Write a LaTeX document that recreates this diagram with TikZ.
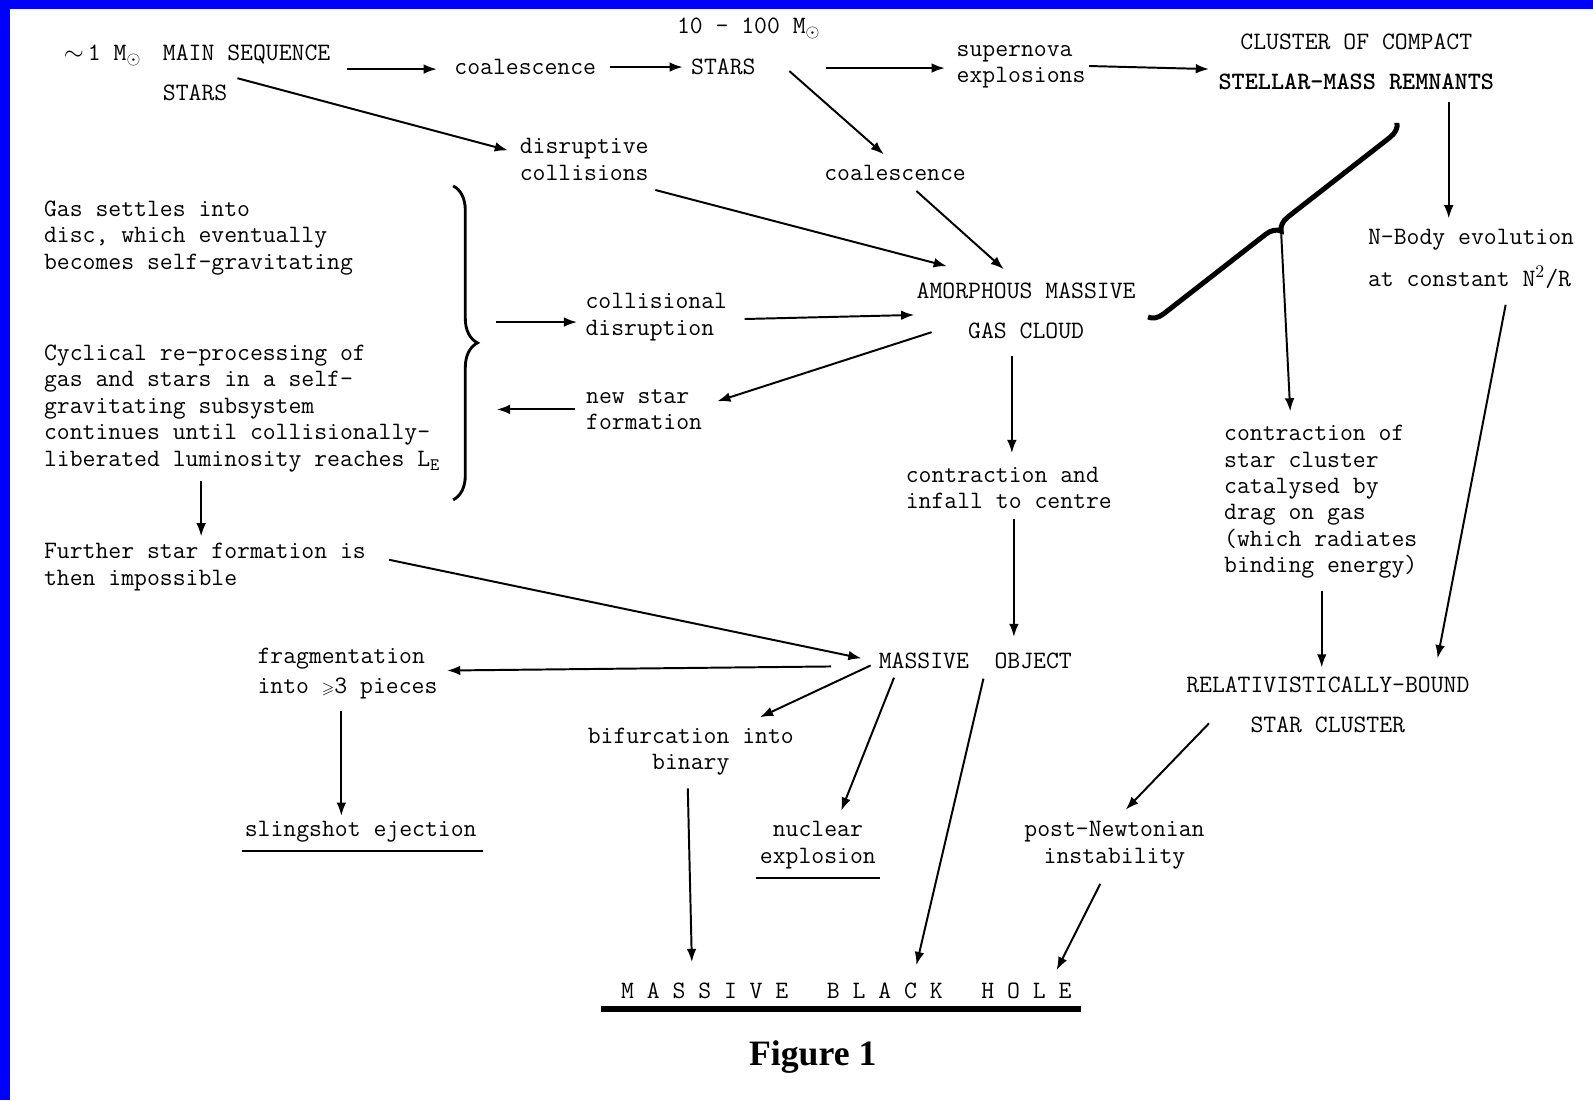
\documentclass[tikz,border=0pt]{standalone}
\usepackage{amssymb}
\usepackage{fontspec}
\newfontfamily\figfont{Liberation Serif}
\usetikzlibrary{arrows.meta,decorations.pathreplacing}
\newcommand{\tw}{\fontsize{14}{14.8}\selectfont\ttfamily}
\tikzset{
  stage/.style={font=\tw,inner sep=0pt,align=left},
  stagec/.style={font=\tw,inner sep=0pt,align=center},
  flow/.style={-{Latex[length=2.6mm,width=1.9mm]},line width=1.1pt},
  bracebig/.style={decorate,decoration={brace,amplitude=#1},line width=1.6pt}
}
\begin{document}
\begin{tikzpicture}[x=0.2mm,y=-0.2mm]
\useasboundingbox (0,0) rectangle (1568,1083);
\fill[white] (0,0) rectangle (1568,1083);
\fill[blue] (0,0) rectangle (1568,9);
\fill[blue] (0,0) rectangle (10,1083);

% top row
\node[stage] (msun) at (101,55) {$\sim$\,1 M$_{\odot}$};
\node[stage,anchor=west] (ms) at (160,72) {MAIN SEQUENCE\\[2.6mm]STARS};
\node[stage] (coal1) at (517,66) {coalescence};
\node[stage] (bigm) at (737,28) {10 - 100 M$_{\odot}$};
\node[stage] (bigst) at (712,66) {STARS};
\node[stage] (sn) at (1005,66) {supernova\\explosions};
\node[stagec] (ccsr) at (1335,61) {CLUSTER OF COMPACT\\[2.8mm]{\bfseries STELLAR-MASS REMNANTS}};
\node[stage] (dc) at (575,157) {disruptive\\collisions};
\node[stage] (coal2) at (881,170) {coalescence};

% left column
\node[stage,anchor=west] (gas) at (43,234) {Gas settles into\\disc, which eventually\\becomes self-gravitating};
\node[stage,anchor=west] (cyc) at (43,402) {Cyclical re-processing of\\gas and stars in a self-\\gravitating subsystem\\continues until collisionally-\\liberated luminosity reaches L$_{\mathtt{E}}$};
\node[stage,anchor=west] (fsf) at (43,558) {Further star formation is\\then impossible};
\coordinate (lbtop) at (446,183);
\coordinate (lbbot) at (446,492);
\draw[bracebig=4.8mm] (lbtop) -- (lbbot);
\coordinate (lbout) at (488,317);
\coordinate (lbin) at (489,403);

% middle
\node[stage] (coldis) at (646,312) {collisional\\disruption};
\node[stage] (nsf) at (634,403) {new star\\formation};
\node[stagec] (amg) at (1010,306) {AMORPHOUS MASSIVE\\[2.6mm]GAS CLOUD};
\node[stage] (cic) at (993,480) {contraction and\\infall to centre};
\node[stage] (mo) at (960,650) {MASSIVE~~OBJECT};
\node[stage] (frag) at (342,663) {fragmentation\\[0.6mm]into {\small$\geqslant$}3 pieces};
\node[stage] (sling) at (355,819) {slingshot ejection};
\node[stagec] (bif) at (680,740) {bifurcation into\\binary};
\node[stagec] (nuc) at (805,832) {nuclear\\explosion};
\node[stagec] (mbh) at (833,975) {M~A~S~S~I~V~E~~~B~L~A~C~K~~~H~O~L~E};
\node[font=\figfont\bfseries\fontsize{20}{24}\selectfont,inner sep=0pt] (fig) at (800,1040) {Figure 1};

% right column
\node[stage] (nbody) at (1448,255) {N-Body evolution\\[2.6mm]at constant N$^{2}$/R};
\node[stage] (ccl) at (1300,494) {contraction of\\star cluster\\catalysed by\\drag on gas\\(which radiates\\binding energy)};
\node[stagec] (rbsc) at (1307,694) {RELATIVISTICALLY-BOUND\\[2.6mm]STAR CLUSTER};
\node[stagec] (pni) at (1097,832) {post-Newtonian\\instability};
\coordinate (rbtop) at (1375,121);
\coordinate (rbbot) at (1130,312);
\draw[bracebig=2.8mm,line width=2.8pt] (rbtop) -- (rbbot);
\coordinate (rbtip) at (1261,228);

% connectors
\draw[flow] ([shift={(99,-4)}]ms.center) -- ([shift={(-87,2)}]coal1.center);
\draw[flow] ([shift={(83,0)}]coal1.center) -- ([shift={(-40,0)}]bigst.center);
\draw[flow] ([shift={(101,1)}]bigst.center) -- ([shift={(-75,1)}]sn.center);
\draw[flow] ([shift={(67,-1)}]sn.center) -- ([shift={(-145,7)}]ccsr.center);
\draw[flow] ([shift={(-9,5)}]ms.center) -- ([shift={(-75,-9)}]dc.center);
\draw[flow] ([shift={(65,4)}]bigst.center) -- ([shift={(-11,-18)}]coal2.center);
\draw[flow] ([shift={(70,30)}]dc.center) -- ([shift={(-78,-44)}]amg.center);
\draw[flow] ([shift={(21,18)}]coal2.center) -- ([shift={(-22,-41)}]amg.center);
\draw[flow] ([shift={(91,39)}]ccsr.center) -- ([shift={(-22,-40)}]nbody.center);
\draw[flow] (rbtip) -- ([shift={(-30,-89)}]ccl.center);
\draw[flow] ([shift={(34,45)}]nbody.center) -- ([shift={(108,-46)}]rbsc.center);
\draw[flow] ([shift={(1,88)}]ccl.center) -- ([shift={(-6,-37)}]rbsc.center);
\draw[flow] ([shift={(-117,18)}]rbsc.center) -- ([shift={(11,-35)}]pni.center);
\draw[flow] ([shift={(-14,38)}]pni.center) -- ([shift={(207,-20)}]mbh.center);
\draw[flow] (lbout) -- ([shift={(-78,5)}]coldis.center);
\draw[flow] ([shift={(87,2)}]coldis.center) -- ([shift={(-110,4)}]amg.center);
\draw[flow] ([shift={(-93,21)}]amg.center) -- ([shift={(72,-8)}]nsf.center);
\draw[flow] ([shift={(-68,0)}]nsf.center) -- (lbin);
\draw[flow] ([shift={(155,71)}]cyc.west) -- ([shift={(155,-30)}]fsf.west);
\draw[flow] ([shift={(340,-7)}]fsf.west) -- ([shift={(-112,-2)}]mo.center);
\draw[flow] ([shift={(-14,44)}]amg.center) -- ([shift={(3,-34)}]cic.center);
\draw[flow] ([shift={(5,31)}]cic.center) -- ([shift={(38,-23)}]mo.center);
\draw[flow] ([shift={(-142,6)}]mo.center) -- ([shift={(98,-3)}]frag.center);
\draw[flow] ([shift={(-6,37)}]frag.center) -- ([shift={(-19,-16)}]sling.center);
\draw[flow] ([shift={(-103,5)}]mo.center) -- ([shift={(68,-34)}]bif.center);
\draw[flow] ([shift={(-3,36)}]bif.center) -- ([shift={(-152,-28)}]mbh.center);
\draw[flow] ([shift={(-80,17)}]mo.center) -- ([shift={(23,-34)}]nuc.center);
\draw[flow] ([shift={(8,18)}]mo.center) -- ([shift={(69,-25)}]mbh.center);

% underlines
\draw[line width=1.2pt] ([shift={(-117,19)}]sling.center) -- ([shift={(120,19)}]sling.center);
\draw[line width=1.2pt] ([shift={(-61,32)}]nuc.center) -- ([shift={(61,32)}]nuc.center);
\draw[line width=3.4pt] ([shift={(-241,18)}]mbh.center) -- ([shift={(231,18)}]mbh.center);
\end{tikzpicture}
\end{document}
